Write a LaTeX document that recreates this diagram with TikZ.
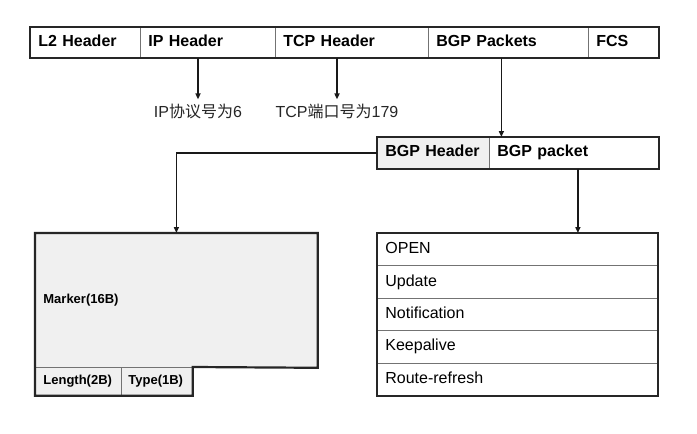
\documentclass[tikz,border=0pt]{standalone}
\usepackage{fontspec}
\setmainfont{Liberation Sans}
\newfontfamily\cjk{Noto Sans CJK SC}
\usetikzlibrary{arrows.meta}

\begin{document}
\begin{tikzpicture}[x=1pt, y=-1pt, > = {Triangle[length=6pt,width=5pt]},
  cell/.style = {draw=black!55, line width=0.8pt, anchor=north west, text width=#1, align=left, inner xsep=8pt, inner ysep=0pt, minimum height=30pt, text height=11.5pt, text depth=3.5pt, font=\fontsize{16}{19}\selectfont\bfseries},
  field/.style = {cell=#1, fill=black!6, text height=9.5pt, text depth=3pt, font=\fontsize{13}{15}\selectfont\bfseries},
  msgrow/.style = {cell=264pt, minimum height=32.4pt, font=\fontsize{16}{19}\selectfont},
  note/.style = {inner sep=4pt, text=black!85, font=\fontsize{16}{19}\selectfont},
  frame/.style = {line width=2.2pt, black!85, line join=miter},
  link/.style = {line width=1.5pt, black!90}]

    \useasboundingbox (0,0) rectangle (697,434);

    % frame of the packet
    \node[cell=94pt] (l2) at (30,27) {L2 Header};
    \node[cell=119pt] (ip) at (140,27) {IP Header};
    \node[cell=137pt] (tcp) at (275,27) {TCP Header};
    \node[cell=144pt] (pkts) at (428,27) {BGP Packets};
    \node[cell=54pt] (fcs) at (588,27) {FCS};
    \draw[frame] (l2.north west) rectangle (fcs.south east);

    % protocol and port
    \node[note] (ipnote) at (198,111) {IP{\cjk 协议号为}6};
    \node[note] (tcpnote) at (337,111) {TCP{\cjk 端口号为}179};
    \draw[link, ->] (ip.south -| ipnote.north) -- (ipnote.north);
    \draw[link, ->] (tcp.south -| tcpnote.north) -- (tcpnote.north);

    % bgp message
    \node[cell=96pt, minimum height=31pt, fill=black!6] (bhdr) at (377,137) {BGP Header};
    \node[cell=153pt, minimum height=31pt] (bpkt) at (489,137) {BGP packet};
    \draw[frame] (bhdr.north west) rectangle (bpkt.south east);

    % header fields
    \node[field=266pt, minimum height=134pt] (marker) at (35,233) {Marker(16B)};
    \node[field=70pt, minimum height=28pt] (len) at (35,367) {Length(2B)};
    \node[field=57pt, minimum height=28pt, inner xsep=7pt] (type) at (121,367) {Type(1B)};
    \draw[frame] (marker.north west) -- (marker.north east) -- (marker.south east)
      -- (type.north east) -- (type.south east) -- (len.south west) -- cycle;

    % message types
    \foreach \txt [count=\i] in {OPEN,Update,Notification,Keepalive,Route-refresh}
      \node[msgrow] (m\i) at (377,{233+(\i-1)*32.4}) {\txt};
    \draw[frame] (m1.north west) rectangle (m5.south east);

    % connectors
    \draw[link, ->] ([xshift=-7pt]pkts.south) -- ([xshift=-7pt]pkts.south |- bpkt.north);
    \draw[link, ->] (bhdr.west) -| (marker.north);
    \draw[link, ->] ([xshift=4pt]bpkt.south) -- ([xshift=4pt]bpkt.south |- m1.north);

\end{tikzpicture}
\end{document}
